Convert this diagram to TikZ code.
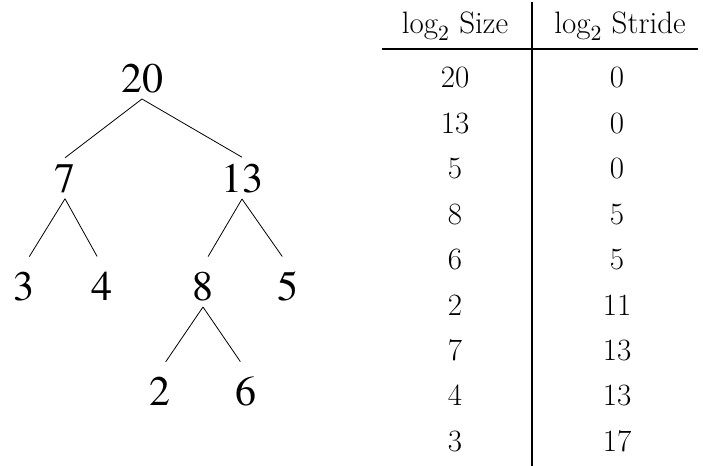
\RequirePackage{fix-cm}
\documentclass[tikz,border=0pt]{standalone}
\usepackage{fontspec}
\newfontfamily\treefont{TeX Gyre Termes}

\begin{document}
\begin{tikzpicture}
[x=0.5pt,y=-0.5pt,
num/.style={anchor=base,inner sep=3pt,font=\treefont\fontsize{21}{24}\selectfont},
cell/.style={anchor=base,inner sep=0pt,font=\fontsize{15.5}{18}\selectfont},
twig/.style={shorten >=5pt},
rule/.style={line width=1pt}]
\useasboundingbox (0,0) rectangle (703,466);
% tree
\node[num] (n20) at (142,92) {20};
\node[num] (n7) at (65,192) {7};
\node[num] (n13) at (242,192) {13};
\node[num] (n3) at (24,300) {3};
\node[num] (n4) at (102,300) {4};
\node[num] (n8) at (203,300) {8};
\node[num] (n5) at (288,300) {5};
\node[num] (n2) at (160,405) {2};
\node[num] (n6) at (246,405) {6};
\draw (n20.south) -- (n7.north);
\draw (n20.south) -- (n13.north);
\draw[twig] (n7.south) -- (n3.north);
\draw[twig] (n7.south) -- (n4.north);
\draw[twig] (n13.south) -- (n8.north);
\draw[twig] (n13.south) -- (n5.north);
\draw[twig] (n8.south) -- (n2.north);
\draw[twig] (n8.south) -- (n6.north);
% table
\node[cell] (hs) at (455,33) {$\log_2$ Size};
\node[cell] (ht) at (620,33) {$\log_2$ Stride};
\foreach \s/\t [count=\i from 0] in {20/0,13/0,5/0,8/5,6/5,2/11,7/13,4/13,3/17}{
  \node[cell] (s\i) at (455,88+45.4*\i) {\s};
  \node[cell] (t\i) at (617,88+45.4*\i) {\t};
}
\coordinate (top) at (532,2);
\coordinate (bot) at (532,466);
\draw[rule] (top) -- (bot);
\coordinate (left) at (382,49);
\coordinate (right) at (698,49);
\draw[rule] (left) -- (right);
\end{tikzpicture}
\end{document}
